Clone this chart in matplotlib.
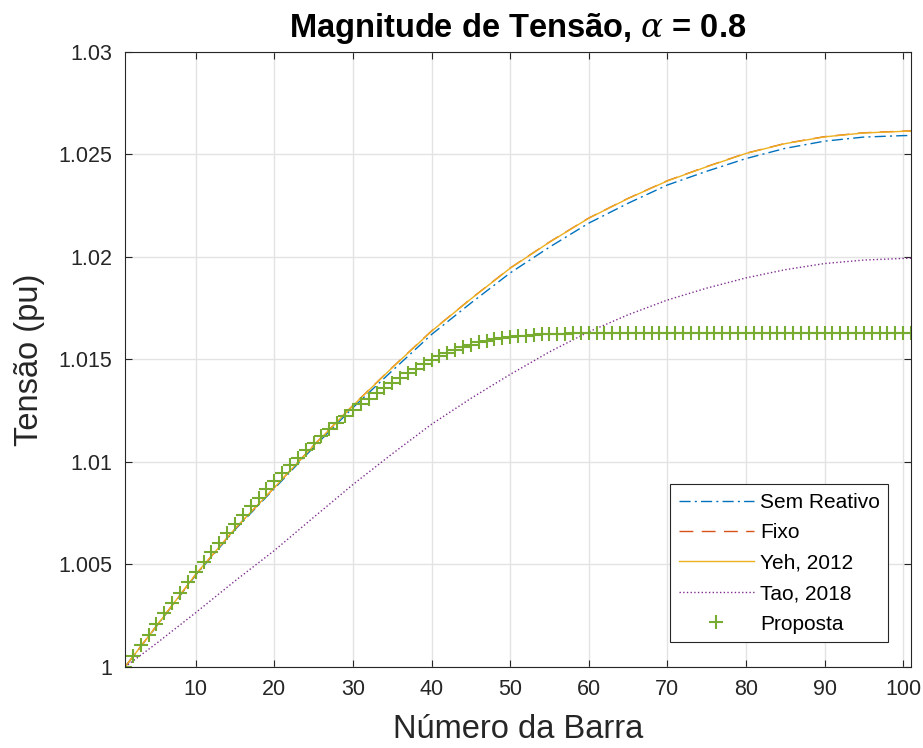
import numpy as np
import matplotlib
matplotlib.use("Agg")
import matplotlib.pyplot as plt

plt.rcParams['font.family'] = ['Liberation Sans', 'DejaVu Sans']
plt.rcParams['mathtext.fontset'] = 'custom'
plt.rcParams['mathtext.it'] = 'DejaVu Serif:italic'

# Bus numbers where the curves were read (lines)
barras_linha = [1, 5, 10, 15, 20, 25, 30, 35, 40, 45, 50, 55, 60, 65, 70,
                75, 80, 85, 90, 95, 100, 101]

sem_reativo = [1.00000, 1.00198, 1.00448, 1.00670, 1.00870, 1.01072, 1.01265,
               1.01445, 1.01622, 1.01775, 1.01922, 1.02048, 1.02165, 1.02262,
               1.02351, 1.02418, 1.02480, 1.02530, 1.02565, 1.02585, 1.02592,
               1.02593]
fixo = [1.00000, 1.00200, 1.00451, 1.00674, 1.00875, 1.01081, 1.01276,
        1.01461, 1.01639, 1.01796, 1.01946, 1.02073, 1.02190, 1.02286,
        1.02372, 1.02441, 1.02506, 1.02554, 1.02587, 1.02606, 1.02614,
        1.02615]
yeh = [1.00000, 1.00200, 1.00452, 1.00675, 1.00875, 1.01080, 1.01275,
       1.01460, 1.01638, 1.01795, 1.01945, 1.02072, 1.02189, 1.02285,
       1.02371, 1.02440, 1.02505, 1.02553, 1.02586, 1.02605, 1.02613,
       1.02614]
tao = [1.00000, 1.00115, 1.00265, 1.00420, 1.00568, 1.00730, 1.00890,
       1.01040, 1.01184, 1.01310, 1.01427, 1.01537, 1.01635, 1.01718,
       1.01790, 1.01848, 1.01898, 1.01938, 1.01968, 1.01985, 1.01993,
       1.01994]

# Proposta: one marker per bus
barras = list(range(1, 102))
proposta = [
    1.00000, 1.00053, 1.00105, 1.00157, 1.00209, 1.00261, 1.00312, 1.00363, 1.00413, 1.00463,
    1.00511, 1.00559, 1.00606, 1.00652, 1.00697, 1.00741, 1.00784, 1.00826, 1.00867, 1.00907,
    1.00946, 1.00984, 1.01021, 1.01057, 1.01092, 1.01126, 1.01159, 1.01191, 1.01222, 1.01252,
    1.01281, 1.01309, 1.01336, 1.01362, 1.01387, 1.01411, 1.01434, 1.01456, 1.01477, 1.01497,
    1.01516, 1.01533, 1.01548, 1.01561, 1.01573, 1.01583, 1.01592, 1.01599, 1.01605, 1.01610,
    1.01614, 1.01617, 1.01620, 1.01622, 1.01624, 1.01625, 1.01626, 1.01627, 1.01628, 1.01629,
    1.01629, 1.01629, 1.01629, 1.01630, 1.01630, 1.01630, 1.01630, 1.01630, 1.01630, 1.01630,
    1.01630, 1.01630, 1.01630, 1.01630, 1.01630, 1.01630, 1.01630, 1.01630, 1.01630, 1.01630,
    1.01630, 1.01630, 1.01630, 1.01630, 1.01630, 1.01631, 1.01631, 1.01631, 1.01631, 1.01631,
    1.01631, 1.01631, 1.01631, 1.01631, 1.01631, 1.01631, 1.01631, 1.01631, 1.01631, 1.01631,
    1.01631,
]

xticks = [10, 20, 30, 40, 50, 60, 70, 80, 90, 100]
yticks = [1.0, 1.005, 1.01, 1.015, 1.02, 1.025, 1.03]
ytick_labels = ["1", "1.005", "1.01", "1.015", "1.02", "1.025", "1.03"]

fig = plt.figure(figsize=(9.23, 7.48), dpi=100)
ax = fig.add_axes([0.1354, 0.1083, 0.8516, 0.8222])

ax.plot(barras_linha, sem_reativo, color='#0072BD', lw=1.0,
        dashes=(8, 3, 1.5, 3), label='Sem Reativo')
ax.plot(barras_linha, fixo, color='#D95319', lw=1.0, dashes=(10, 6), label='Fixo')
ax.plot(barras_linha, yeh, '-', color='#EDB120', lw=1.0, label='Yeh, 2012')
ax.plot(barras_linha, tao, ':', color='#7E2F8E', lw=1.0, label='Tao, 2018')
ax.plot(barras, proposta, '+', color='#77AC30', ms=10, mew=1.5, ls='none',
        label='Proposta')

ax.set_xlim(1, 101)
ax.set_ylim(1.0, 1.03)
ax.set_xticks(xticks)
ax.set_yticks(yticks)
ax.set_yticklabels(ytick_labels)
ax.tick_params(direction='in', top=True, right=True, labelsize=15.5,
               colors='#262626', length=5, width=0.8)
ax.tick_params(axis='x', pad=9)
ax.tick_params(axis='y', pad=9)
for s in ax.spines.values():
    s.set_color('#262626')
    s.set_linewidth(0.8)
ax.grid(True, color='#E3E3E3', lw=1.0)
ax.set_axisbelow(True)

ax.set_title(r"Magnitude de Tensão, $\alpha$ = 0.8", fontsize=23.5,
             fontweight='bold', pad=11)
ax.set_xlabel("Número da Barra", fontsize=23.5, color='#262626', labelpad=10)
ax.set_ylabel("Tensão (pu)", fontsize=23.5, color='#262626', labelpad=10)

leg = ax.legend(loc='lower right', bbox_to_anchor=(0.9707, 0.0407), fontsize=15,
                handlelength=3.6, labelspacing=0.55, fancybox=False,
                framealpha=1, edgecolor='#262626', borderpad=0.4,
                handletextpad=0.3, borderaxespad=0)
leg.get_frame().set_linewidth(0.8)

fig.savefig("out.png", dpi=100)
